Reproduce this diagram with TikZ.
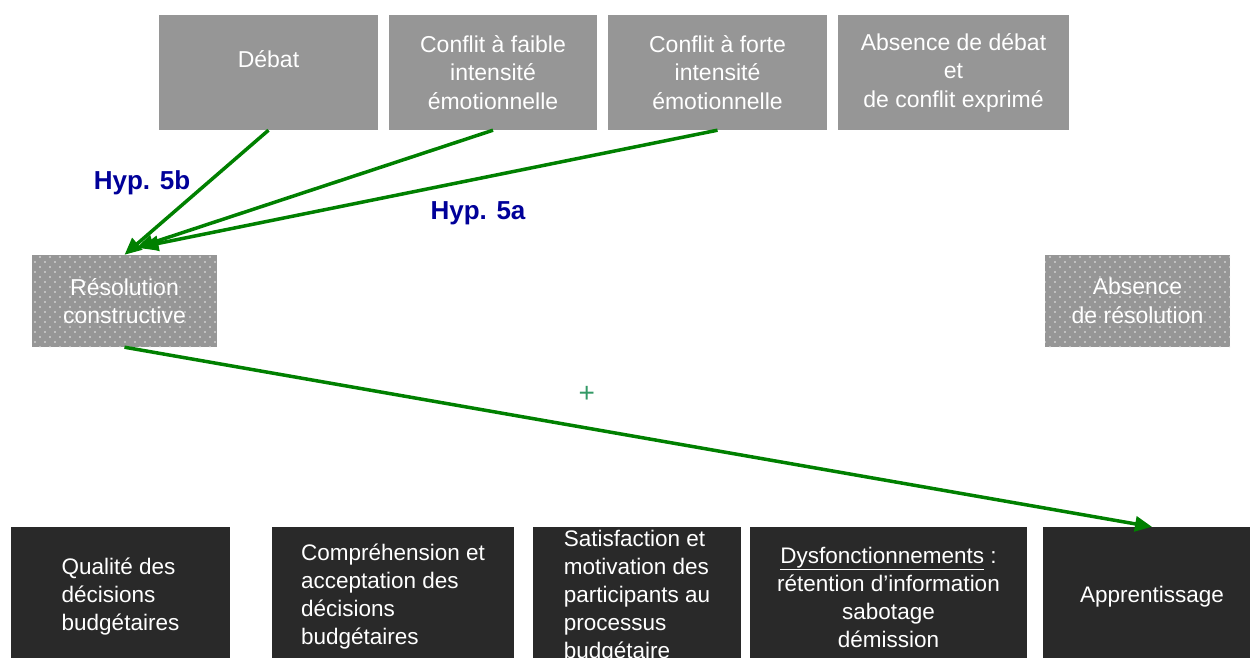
\documentclass[tikz,border=0pt]{standalone}
\usepackage{fontspec}
\setmainfont{Liberation Sans}
\usetikzlibrary{shapes,arrows,arrows.meta,calc,patterns.meta}
\definecolor{boxgrey}{HTML}{969696}
\definecolor{boxdark}{HTML}{292929}
\definecolor{arrowgreen}{HTML}{008000}
\definecolor{hypblue}{HTML}{000099}
\definecolor{plusgreen}{HTML}{339966}
\tikzstyle{box}=[rectangle, inner sep=0pt, text=white, align=center, font=\fontsize{23}{28.5}\selectfont]
\tikzstyle{topbox}=[box, fill=boxgrey, minimum height=115pt]
\tikzstyle{resbox}=[box, fill=boxgrey, minimum width=185pt, minimum height=92pt,
  postaction={pattern={Dots[distance=10pt,radius=0.8pt]}, pattern color=white!80!boxgrey},
  postaction={pattern={Dots[distance=10pt,radius=0.8pt,xshift=5pt,yshift=5pt]}, pattern color=white!80!boxgrey}]
\tikzstyle{outbox}=[box, fill=boxdark, minimum height=140pt, font=\fontsize{22.5}{28}\selectfont]
\tikzstyle{arrow}=[draw, arrowgreen, line width=3.5pt, -{Triangle[length=17pt,width=15pt]}]
\tikzstyle{hyp}=[text=hypblue, font=\fontsize{26}{30}\selectfont\bfseries]

\begin{document}
\begin{tikzpicture}[x=1pt,y=-1pt]
\useasboundingbox (0,0) rectangle (1250,657);
\clip (0,0) rectangle (1250,657);

% types de debat / conflit
\node (debat) [topbox, minimum width=219pt] at (268.5,72.5) {\strut Débat\\[-8pt]\strut};
\node (faible) [topbox, minimum width=208pt] at (493,72.5) {Conflit à faible\\intensité\\émotionnelle};
\node (forte) [topbox, minimum width=219pt] at (717.5,72.5) {Conflit à forte\\intensité\\émotionnelle};
\node (absdebat) [topbox, minimum width=231pt] at (953.5,72.5) {Absence de débat\\et\\de conflit exprimé};

% resolution
\node (resol) [resbox] at (124.5,301) {Résolution\\constructive};
\node (absresol) [resbox] at (1137.5,301) {Absence\\de résolution};

% effets
\node (qualite) [outbox, minimum width=219pt] at (120.5,597) {\begin{tabular}{@{}l@{}}Qualité des\\décisions\\budgétaires\end{tabular}};
\node (compr) [outbox, minimum width=242pt] at (393,597) {\begin{tabular}{@{}l@{}}Compréhension et\\acceptation des\\décisions\\budgétaires\end{tabular}};
\node (satisf) [outbox, minimum width=208pt] at (637,597) {\begin{tabular}{@{}l@{}}Satisfaction et\\motivation des\\participants au\\processus\\budgétaire\end{tabular}};
\node (dysf) [outbox, minimum width=277pt] at (888.5,597) {\underline{Dysfonctionnements} :\\rétention d’information\\sabotage\\démission};
\node (appr) [outbox, minimum width=218pt] at (1152,597) {Apprentissage};

% hypotheses
\node (hypb) [hyp] at (142,183) {Hyp. 5b};
\node (hypa) [hyp] at (478,213) {Hyp. 5a};

\draw [arrow] (debat.south) -- (resol.north);
\draw [arrow] (faible.south) -- ([xshift=12pt,yshift=7pt]resol.north);
\draw [arrow] (forte.south) -- ([xshift=17pt,yshift=8pt]resol.north);
\draw [arrow] (resol.south) -- node[pos=0.45, above=24pt, inner sep=0pt, text=plusgreen, font=\fontsize{28}{30}\selectfont] (plus) {+} (appr.north);

\end{tikzpicture}
\end{document}
